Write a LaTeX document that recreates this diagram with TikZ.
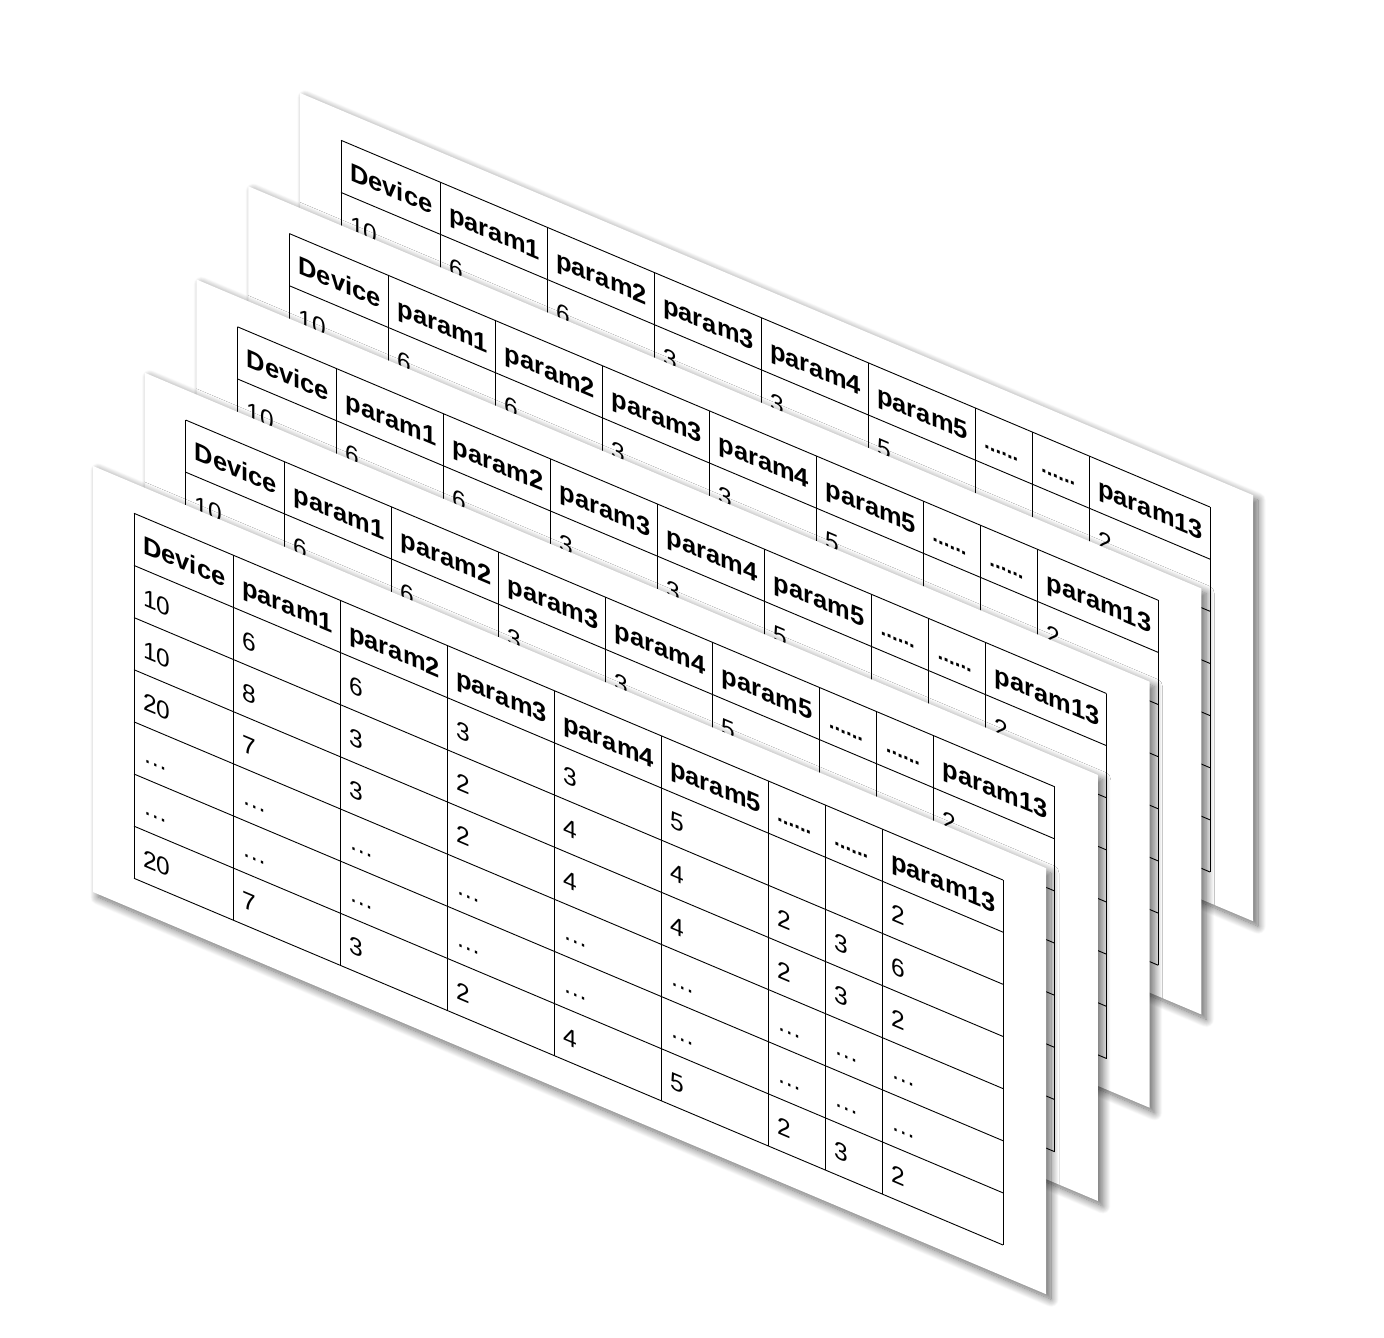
\documentclass[tikz,border=0pt]{standalone}
\usepackage{fontspec}
\setmainfont{Liberation Sans}
\usetikzlibrary{shadows.blur}

% columns: left edge / header / values (top to bottom)
\newcommand\dotshead{{\fontsize{20.5}{24}\selectfont......}}
\newcommand\tablecols{%
  41/Device/{10,10,20,…,…,20},
  140/param1/{6,8,7,…,…,7},
  247/param2/{6,3,3,…,…,3},
  354/param3/{3,2,2,…,…,2},
  461/param4/{3,4,4,…,…,4},
  568/param5/{5,4,4,…,…,5},
  675/\dotshead/{{},2,2,…,…,2},
  732/\dotshead/{{},3,3,…,…,3},
  789/param13/{2,6,2,…,…,2}}

\begin{document}
\begin{tikzpicture}[x = 1pt, y = 1pt, % one unit = one pixel
    sheet/.style = {fill = white, blur shadow = {shadow xshift = 5pt,
        shadow yshift = -5pt, shadow blur radius = 8pt, shadow opacity = 60,
        shadow blur steps = 16}},
    grid line/.style = {line width = 0.9pt, black},
    head/.style = {anchor = base west, inner sep = 0pt, transform shape,
        font = \bfseries\fontsize{25.5}{30}\selectfont},
    cell/.style = {anchor = base west, inner sep = 0pt, transform shape,
        font = \fontsize{24.5}{29}\selectfont}
  ]

  \useasboundingbox (0,0) rectangle (1384,-1338);

  % sheets from back to front
  \foreach \k in {4,3,2,1,0} {
    \begin{scope}[shift = {(93+51.75*\k,-466+93.25*\k)}, yslant = -0.422]
      \path[sheet] (0,0) rectangle (953,-426);

      % table grid
      \foreach \r in {0,...,7}
        \draw[grid line] (41,-30-52.14*\r) -- (910,-30-52.14*\r);
      \foreach \u in {41,140,247,354,461,568,675,732,789,910}
        \draw[grid line] (\u,-30) -- (\u,-395);

      % header and values
      \foreach \ul/\hd/\vals [count = \c] in \tablecols {
        \node[head] (s\k-h\c) at (\ul+9,-66) {\hd};
        \foreach \v [count = \r] in \vals
          \node[cell] (s\k-c\c-\r) at (\ul+9,-66-52.14*\r) {\v};
      }
    \end{scope}
  }
\end{tikzpicture}
\end{document}
